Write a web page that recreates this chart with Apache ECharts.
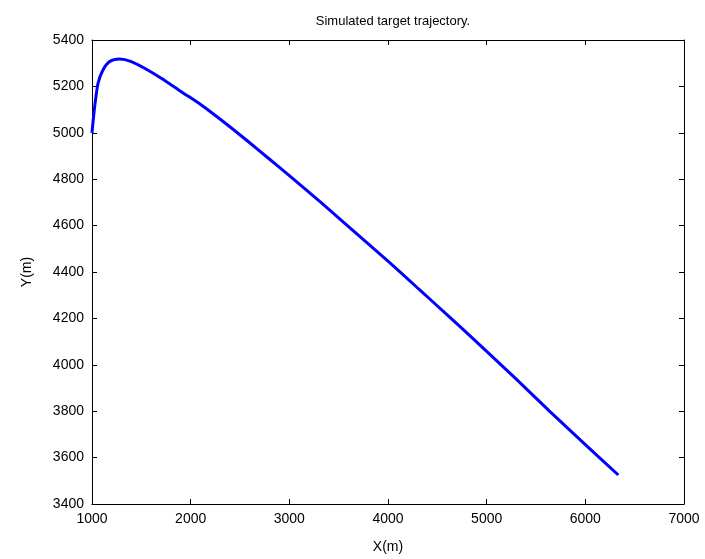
<!DOCTYPE html>
<html><head><meta charset="utf-8">
<script src="https://cdn.jsdelivr.net/npm/echarts@6/dist/echarts.min.js"></script>
<style>html,body{margin:0;padding:0;background:#fff}#c{width:705px;height:559px}</style>
</head><body><div id="c"></div>
<script>
const titleText = "Simulated target trajectory.";
const xName = "X(m)";
const yName = "Y(m)";
const xs = [1000, 1010, 1027, 1061, 1111, 1179, 1280, 1398, 1533, 1702, 1905, 2108, 2310, 2564, 2800, 3000, 3311, 3600, 4000, 4324, 4600, 4932, 5300, 5642, 6000, 6334];
const ys = [5000, 5045, 5112, 5213, 5271, 5307, 5318, 5307, 5278, 5235, 5177, 5120, 5055, 4969, 4886, 4815, 4703, 4596, 4447, 4322, 4215, 4085, 3938, 3798, 3656, 3525];
const xMin = 1000, xMax = 7000, xStep = 1000;
const yMin = 3400, yMax = 5400, yStep = 200;

const data = xs.map((x, i) => [x, ys[i]]);
const font = "'Liberation Sans', Arial, sans-serif";
const chart = echarts.init(document.getElementById('c'));
const baseAxis = {
  axisLine: {show: true, onZero: false, lineStyle: {color: '#000', width: 1}},
  axisTick: {show: true, inside: true, length: 5, lineStyle: {color: '#000'}},
  splitLine: {show: false}
};
chart.setOption({
  animation: false,
  title: {text: titleText, left: 388, top: 10, textAlign: 'center',
    textStyle: {fontFamily: font, fontSize: 13, fontWeight: 'normal', color: '#000'}},
  grid: {left: 92, right: 21, top: 40, bottom: 55},
  xAxis: [
    Object.assign({type: 'value', min: xMin, max: xMax, interval: xStep, position: 'bottom',
      name: xName, nameLocation: 'middle', nameGap: 36,
      nameTextStyle: {fontFamily: font, fontSize: 14, color: '#000'},
      axisLabel: {fontFamily: font, fontSize: 14, color: '#000', margin: 8, formatter: v => String(v)}}, baseAxis),
    Object.assign({type: 'value', min: xMin, max: xMax, interval: xStep, position: 'top',
      axisLabel: {show: false}}, baseAxis)
  ],
  yAxis: [
    Object.assign({type: 'value', min: yMin, max: yMax, interval: yStep, position: 'left',
      name: yName, nameLocation: 'middle', nameGap: 58, nameRotate: 90,
      nameTextStyle: {fontFamily: font, fontSize: 14, color: '#000'},
      axisLabel: {fontFamily: font, fontSize: 14, color: '#000', margin: 8, formatter: v => String(v)}}, baseAxis),
    Object.assign({type: 'value', min: yMin, max: yMax, interval: yStep, position: 'right',
      axisLabel: {show: false}}, baseAxis)
  ],
  series: [{
    type: 'line', data: data, xAxisIndex: 0, yAxisIndex: 0,
    showSymbol: false, smooth: 0.25,
    lineStyle: {color: '#0000ff', width: 3}
  }]
});
</script></body></html>
